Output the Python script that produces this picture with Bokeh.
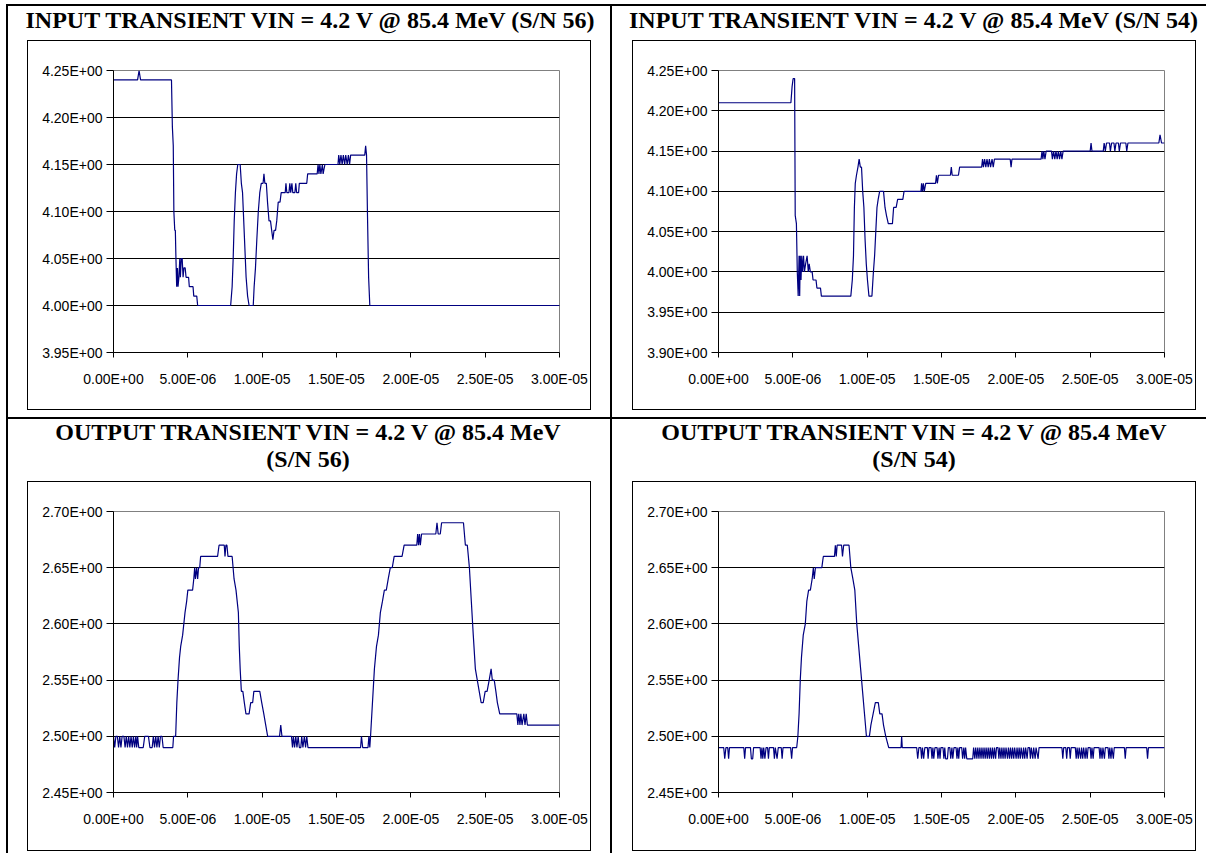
from bokeh.plotting import figure
from bokeh.models import Range1d, FixedTicker, CustomJSTickFormatter, Div, Spacer
from bokeh.layouts import column, row
from bokeh.embed import file_html
from bokeh.resources import INLINE

# ---------------- data (time in microseconds, voltage in V) ----------------
title_in56 = ["INPUT TRANSIENT VIN = 4.2 V @ 85.4 MeV (S/N 56)"]
title_in54 = ["INPUT TRANSIENT VIN = 4.2 V @ 85.4 MeV (S/N 54)"]
title_out56 = ["OUTPUT TRANSIENT VIN = 4.2 V @ 85.4 MeV", "(S/N 56)"]
title_out54 = ["OUTPUT TRANSIENT VIN = 4.2 V @ 85.4 MeV", "(S/N 54)"]

x_ticks = [0.0, 5e-6, 1e-5, 1.5e-5, 2e-5, 2.5e-5, 3e-5]
y_ticks_in56 = [3.95, 4.00, 4.05, 4.10, 4.15, 4.20, 4.25]
y_ticks_in54 = [3.90, 3.95, 4.00, 4.05, 4.10, 4.15, 4.20, 4.25]
y_ticks_out = [2.45, 2.50, 2.55, 2.60, 2.65, 2.70]

t_in56 = [0, 1.62, 1.72, 1.82, 3.90, 3.96, 4.02, 4.06, 4.12, 4.16, 4.20, 4.25, 4.30, 4.34,
          4.40, 4.46, 4.50, 4.56, 4.62, 4.68, 4.74, 4.82, 4.88, 5.05, 5.10, 5.35, 5.40, 5.60,
          5.66, 7.88, 7.98, 8.05, 8.12, 8.20, 8.28, 8.36, 8.52, 8.60, 8.68, 8.76, 8.84, 8.92,
          9.02, 9.12, 9.40, 9.46, 9.55, 9.64, 9.74, 9.84, 9.94, 10.06, 10.12, 10.18, 10.28,
          10.36, 10.46, 10.56, 10.64, 10.72, 10.80, 10.90, 10.98, 11.08, 11.20, 11.28, 11.55,
          11.60, 11.66, 11.80, 11.86, 11.92, 12.00, 12.06, 12.20, 12.26, 12.32, 12.45, 12.50,
          13.00, 13.06, 13.70, 13.76, 13.82, 13.88, 13.95, 14.05, 14.10, 14.22, 15.10, 15.15,
          15.22, 15.30, 15.38, 15.46, 15.55, 15.62, 15.72, 15.80, 15.88, 15.95, 16.90, 16.96,
          17.02, 17.08, 17.16, 17.24, 30.0]
v_in56 = [4.24, 4.24, 4.25, 4.24, 4.24, 4.19, 4.17, 4.10, 4.08, 4.08, 4.05, 4.02, 4.04, 4.02,
          4.03, 4.05, 4.03, 4.05, 4.05, 4.03, 4.04, 4.04, 4.03, 4.03, 4.02, 4.02, 4.01, 4.01,
          4.00, 4.00, 4.02, 4.05, 4.09, 4.12, 4.14, 4.15, 4.15, 4.13, 4.12, 4.09, 4.06, 4.03,
          4.01, 4.00, 4.00, 4.02, 4.04, 4.07, 4.10, 4.12, 4.13, 4.13, 4.14, 4.13, 4.13,
          4.11, 4.09, 4.09, 4.08, 4.07, 4.08, 4.08, 4.09, 4.11, 4.11, 4.12, 4.12,
          4.13, 4.12, 4.12, 4.13, 4.12, 4.13, 4.12, 4.12, 4.13, 4.12, 4.12, 4.13,
          4.13, 4.14, 4.14, 4.15, 4.14, 4.15, 4.14, 4.15, 4.14, 4.15, 4.15, 4.16,
          4.15, 4.16, 4.15, 4.16, 4.15, 4.16, 4.15, 4.16, 4.15, 4.16, 4.16, 4.17,
          4.16, 4.10, 4.03, 4.00, 4.00]

t_in54 = [0, 4.87, 4.95, 5.02, 5.12, 5.16, 5.24, 5.30, 5.36, 5.42, 5.46, 5.50, 5.55, 5.60,
          5.65, 5.72, 5.78, 5.86, 5.96, 6.04, 6.10, 6.18, 6.30, 6.36, 6.56, 6.62, 6.86, 6.92,
          8.90, 9.00, 9.08, 9.14, 9.20, 9.28, 9.38, 9.46, 9.54, 9.62, 9.70, 9.78, 9.86, 9.94,
          10.02, 10.12, 10.32, 10.42, 10.50, 10.58, 10.66, 10.74, 10.84, 11.10, 11.20, 11.30,
          11.42, 11.70, 11.78, 11.95, 12.05, 12.40, 12.48, 13.62, 13.66, 13.72, 13.78, 13.84,
          13.94, 14.60, 14.66, 14.72, 14.80, 15.60, 15.66, 15.72, 16.14, 16.22, 17.70, 17.76,
          17.82, 17.90, 17.98, 18.06, 18.14, 18.22, 18.30, 18.40, 18.48, 18.56, 19.62, 19.68,
          19.74, 21.70, 21.76, 21.82, 21.88, 21.96, 22.04, 22.40, 22.46, 22.54, 22.62, 22.70,
          22.78, 22.86, 22.94, 23.02, 23.10, 23.18, 25.00, 25.06, 25.12, 25.88, 25.94, 26.02,
          26.10, 26.30, 26.36, 26.44, 26.60, 26.66, 26.74, 26.90, 26.96, 27.04, 27.40, 27.46,
          27.54, 29.62, 29.70, 29.80, 30.0]
v_in54 = [4.21, 4.21, 4.23, 4.24, 4.24, 4.07, 4.06, 4.00, 3.97, 4.02, 3.97, 4.02, 3.99, 4.02,
          4.00, 4.02, 4.00, 4.01, 4.02, 4.00, 4.01, 4.00, 4.00, 3.99, 3.99, 3.98, 3.98, 3.97,
          3.97, 3.99, 4.02, 4.08, 4.11, 4.12, 4.13, 4.14, 4.13, 4.13, 4.10, 4.08, 4.04, 4.01,
          3.99, 3.97, 3.97, 4.00, 4.02, 4.05, 4.08, 4.09, 4.10, 4.10, 4.08, 4.07,
          4.06, 4.06, 4.08, 4.08, 4.09, 4.09, 4.10, 4.10, 4.11, 4.10, 4.11, 4.10,
          4.11, 4.11, 4.12, 4.11, 4.12, 4.12, 4.13, 4.12, 4.12, 4.13, 4.13, 4.14,
          4.13, 4.14, 4.13, 4.14, 4.13, 4.14, 4.13, 4.14, 4.13, 4.14, 4.14, 4.13,
          4.14, 4.14, 4.15, 4.14, 4.15, 4.14, 4.15, 4.15, 4.14, 4.15, 4.14, 4.15,
          4.14, 4.15, 4.14, 4.15, 4.14, 4.15, 4.15, 4.16, 4.15, 4.15, 4.16, 4.15,
          4.16, 4.16, 4.15, 4.16, 4.16, 4.15, 4.16, 4.16, 4.15, 4.16, 4.16, 4.15,
          4.16, 4.16, 4.17, 4.16, 4.16]

t_out56 = [0, 0.08, 0.16, 0.26, 0.34, 0.42, 0.50, 0.58, 0.70, 0.78, 0.86, 0.94, 1.02, 1.10,
           1.18, 1.26, 1.34, 1.42, 1.50, 1.56, 1.62, 1.70, 2.00, 2.10, 2.35, 2.45, 2.60, 2.68,
           2.76, 2.84, 2.92, 3.00, 3.08, 3.16, 3.26, 3.34, 3.99, 4.04, 4.18, 4.26, 4.34, 4.44,
           4.52, 4.65, 4.73, 4.81, 4.92, 5.00, 5.32, 5.40, 5.46, 5.51, 5.59, 5.66, 5.72, 5.80,
           5.86, 7.00, 7.10, 7.45, 7.50, 7.56, 7.63, 7.70, 7.98, 8.11, 8.24, 8.32, 8.40, 8.46,
           8.52, 8.60, 8.70, 8.80, 8.91, 9.12, 9.23, 9.36, 9.44, 9.84, 9.97, 10.11, 10.24,
           10.37, 11.17, 11.25, 11.33, 11.97, 12.04, 12.10, 12.18, 12.26, 12.34, 12.42, 12.50,
           12.60, 12.66, 12.74, 12.84, 12.92, 13.00, 13.08, 13.43, 16.62, 16.68, 16.76, 17.12,
           17.18, 17.24, 17.29, 17.42, 17.55, 17.69, 17.82, 17.95, 18.09, 18.22, 18.35, 18.48,
           18.62, 18.75, 18.88, 19.41, 19.55, 20.40, 20.46, 20.52, 20.58, 20.64, 20.72, 21.68,
           21.76, 21.84, 21.98, 22.07, 23.54, 23.67, 23.80, 23.94, 24.07, 24.20, 24.34, 24.47,
           24.60, 24.73, 24.87, 25.00, 25.13, 25.27, 25.40, 25.48, 25.61, 25.72, 25.82, 25.98,
           26.20, 27.13, 27.20, 27.26, 27.34, 27.40, 27.48, 27.60, 27.68, 27.76, 27.84, 28.19,
           30.0]
v_out56 = [2.50, 2.49, 2.50, 2.50, 2.49, 2.50, 2.49, 2.50, 2.50, 2.49, 2.50, 2.49, 2.50, 2.49,
           2.50, 2.49, 2.50, 2.49, 2.50, 2.49, 2.50, 2.49, 2.49, 2.50, 2.50, 2.49, 2.49, 2.50,
           2.49, 2.50, 2.49, 2.50, 2.49, 2.50, 2.50, 2.49, 2.49, 2.50, 2.50, 2.53, 2.55, 2.57,
           2.58, 2.59, 2.60, 2.61, 2.62, 2.63, 2.63, 2.64, 2.65, 2.64, 2.65, 2.64, 2.65, 2.65,
           2.66, 2.66, 2.67, 2.67, 2.66, 2.67, 2.67, 2.66, 2.66, 2.64, 2.63, 2.62, 2.61, 2.58,
           2.56, 2.54, 2.54, 2.53, 2.52, 2.52, 2.53, 2.53, 2.54, 2.54, 2.53, 2.52, 2.51,
           2.50, 2.50, 2.51, 2.50, 2.50, 2.49, 2.50, 2.49, 2.50, 2.49, 2.50, 2.49,
           2.49, 2.50, 2.49, 2.50, 2.49, 2.50, 2.49, 2.49, 2.49, 2.50, 2.49, 2.49,
           2.50, 2.49, 2.50, 2.53, 2.56, 2.58, 2.59, 2.61, 2.62, 2.63, 2.63, 2.64,
           2.65, 2.65, 2.66, 2.66, 2.67, 2.67, 2.68, 2.67, 2.68, 2.67, 2.68, 2.68,
           2.69, 2.68, 2.68, 2.69, 2.69, 2.67, 2.67, 2.65, 2.62, 2.59, 2.56, 2.55,
           2.54, 2.53, 2.53, 2.54, 2.54, 2.55, 2.56, 2.55, 2.55, 2.54, 2.53, 2.52,
           2.52, 2.52, 2.51, 2.52, 2.51, 2.52, 2.51, 2.52, 2.51, 2.52, 2.51, 2.51,
           2.51]

t_out54 = [0, 0.35, 0.42, 0.50, 0.62, 0.68, 0.74, 1.70, 1.76, 1.82, 2.15, 2.21, 2.30, 2.36,
           2.80, 2.86, 2.92, 2.98, 3.04, 3.12, 3.20, 3.30, 3.36, 3.42, 3.70, 3.76, 3.82, 3.94,
           4.02, 4.22, 4.28, 4.34, 4.85, 4.92, 4.98, 5.26, 5.34, 5.42, 5.50, 5.58, 5.70, 5.84,
           5.94, 6.06, 6.18, 6.30, 6.38, 6.44, 6.52, 6.95, 7.05, 7.80, 7.86, 7.92, 7.98, 8.28,
           8.34, 8.42, 8.78, 8.90, 9.04, 9.17, 9.30, 9.43, 9.56, 9.69, 9.82, 9.95, 10.15, 10.25,
           10.40, 10.55, 10.75, 10.85, 11.00, 11.10, 11.25, 11.45, 12.28, 12.32, 12.36, 13.33,
           13.40, 13.48, 13.60, 13.66, 13.72, 13.80, 13.88, 14.05, 14.10, 14.16, 14.30, 14.36,
           14.42, 14.48, 14.56, 14.70, 14.76, 14.84, 14.90, 14.96, 15.10, 15.16, 15.22, 15.28,
           15.40, 15.46, 15.56, 15.62, 15.70, 15.76, 15.84, 15.98, 16.04, 16.10, 16.16, 16.22,
           16.36, 16.42, 16.50, 16.56, 16.62, 16.70, 17.10, 17.16, 17.24, 17.30, 17.38, 17.44,
           17.52, 17.58, 17.66, 17.72, 17.80, 17.86, 17.94, 18.00, 18.08, 18.14, 18.22, 18.28,
           18.36, 18.42, 18.50, 18.56, 18.64, 18.70, 18.80, 18.86, 18.92, 19.00, 19.06, 19.14,
           19.20, 19.28, 19.34, 19.44, 19.50, 19.58, 19.64, 19.72, 19.78, 19.86, 19.92, 20.02,
           20.08, 20.16, 20.22, 20.30, 20.36, 20.46, 20.52, 20.60, 20.66, 20.76, 20.82, 20.92,
           20.98, 21.04, 21.14, 21.20, 21.30, 21.36, 21.50, 21.56, 23.10, 23.16, 23.22, 23.36,
           23.42, 23.48, 23.60, 23.66, 23.72, 24.00, 24.06, 24.12, 24.20, 24.26, 24.36, 24.42,
           24.50, 24.56, 24.66, 24.72, 24.80, 24.86, 25.00, 25.06, 25.12, 25.20, 25.26, 25.60,
           25.66, 25.72, 25.80, 25.86, 25.96, 26.02, 26.20, 26.26, 26.32, 26.40, 26.46, 26.56,
           26.62, 27.30, 27.36, 27.42, 28.80, 28.86, 28.92, 30.0]
v_out54 = [2.49, 2.49, 2.48, 2.49, 2.49, 2.48, 2.49, 2.49, 2.48, 2.49, 2.49, 2.48, 2.48, 2.49,
           2.49, 2.48, 2.49, 2.48, 2.49, 2.48, 2.49, 2.49, 2.48, 2.49, 2.49, 2.48, 2.49, 2.48,
           2.49, 2.49, 2.48, 2.49, 2.49, 2.48, 2.49, 2.49, 2.50, 2.52, 2.55, 2.57, 2.59, 2.60,
           2.62, 2.63, 2.63, 2.64, 2.65, 2.64, 2.65, 2.65, 2.66, 2.66, 2.67, 2.66, 2.67, 2.67,
           2.66, 2.67, 2.67, 2.65, 2.64, 2.63, 2.60, 2.58, 2.56, 2.54, 2.52, 2.50, 2.50, 2.51,
           2.52, 2.53, 2.53, 2.52, 2.52, 2.51, 2.50, 2.49, 2.49, 2.50, 2.49, 2.49,
           2.48, 2.49, 2.49, 2.48, 2.49, 2.48, 2.49, 2.49, 2.48, 2.49, 2.49, 2.48,
           2.49, 2.48, 2.49, 2.49, 2.48, 2.49, 2.48, 2.49, 2.49, 2.48, 2.49, 2.48,
           2.48, 2.49, 2.49, 2.48, 2.49, 2.48, 2.49, 2.49, 2.48, 2.49, 2.48, 2.49,
           2.49, 2.48, 2.49, 2.48, 2.49, 2.48, 2.48, 2.49, 2.48, 2.49, 2.48, 2.49,
           2.48, 2.49, 2.48, 2.49, 2.48, 2.49, 2.48, 2.49, 2.48, 2.49, 2.48, 2.49,
           2.48, 2.49, 2.48, 2.49, 2.48, 2.49, 2.49, 2.48, 2.49, 2.48, 2.49, 2.48,
           2.49, 2.48, 2.49, 2.48, 2.49, 2.48, 2.49, 2.48, 2.49, 2.48, 2.49, 2.48,
           2.49, 2.48, 2.49, 2.48, 2.49, 2.48, 2.49, 2.48, 2.49, 2.48, 2.49, 2.49,
           2.48, 2.49, 2.48, 2.49, 2.48, 2.49, 2.48, 2.49, 2.49, 2.48, 2.49, 2.49,
           2.48, 2.49, 2.49, 2.48, 2.49, 2.49, 2.48, 2.49, 2.48, 2.49, 2.48, 2.49,
           2.48, 2.49, 2.48, 2.49, 2.48, 2.49, 2.49, 2.48, 2.49, 2.48, 2.49, 2.49,
           2.48, 2.49, 2.48, 2.49, 2.48, 2.49, 2.49, 2.48, 2.49, 2.48, 2.49, 2.48,
           2.49, 2.49, 2.48, 2.49, 2.49, 2.48, 2.49, 2.49]

# ---------------- styling ----------------
LINE_COLOR = "#000080"
TITLE_FONT = "'Liberation Serif', 'Times New Roman', serif"
TICK_FONT = "Liberation Sans"

FMT = CustomJSTickFormatter(code="""
const s = tick.toExponential(2);
const parts = s.split('e');
const e = parts[1];
const sign = e[0];
let d = e.slice(1);
if (d.length < 2) { d = '0' + d; }
return parts[0] + 'E' + sign + d;
""")


def chart(t_us, v, y_ticks, H, bottom_border):
    p = figure(width=562, height=H, output_backend="svg", toolbar_location=None, title=None,
               x_range=Range1d(0, 3e-5), y_range=Range1d(y_ticks[0], y_ticks[-1]),
               min_border_left=85, min_border_right=31,
               min_border_top=29, min_border_bottom=bottom_border,
               background_fill_color="white", border_fill_color="white", margin=0)
    p.outline_line_color = "#808080"
    p.outline_line_width = 1

    p.xaxis.ticker = FixedTicker(ticks=x_ticks)
    p.yaxis.ticker = FixedTicker(ticks=y_ticks)
    p.xaxis.formatter = FMT
    p.yaxis.formatter = FMT
    for ax in (p.xaxis[0], p.yaxis[0]):
        ax.axis_line_color = "black"
        ax.major_tick_line_color = "black"
        ax.minor_tick_line_color = None
        ax.major_tick_in = 0
        ax.major_label_text_font = TICK_FONT
        ax.major_label_text_font_size = "14px"
        ax.major_label_text_color = "black"
    p.xaxis.major_tick_out = 5
    p.xaxis.major_label_standoff = 13
    p.yaxis.major_tick_out = 7
    p.yaxis.major_label_standoff = 4

    p.xgrid.visible = False
    p.ygrid.ticker = FixedTicker(ticks=y_ticks[1:-1])
    p.ygrid.grid_line_color = "black"
    p.ygrid.grid_line_width = 1
    p.ygrid.level = "underlay"

    x = [t * 1e-6 for t in t_us]
    p.line(x, v, line_color=LINE_COLOR, line_width=1.2, level="glyph")
    return p


def bar(w, h):
    return Div(text="", width=w, height=h, margin=0, styles={"background-color": "black"})


def gap(w, h):
    return Spacer(width=w, height=h, margin=0)


def title_div(lines, w, h, inner_w, lh):
    html = ("<div style=\"width:%dpx;font-family:%s;font-weight:bold;font-size:24px;"
            "line-height:%dpx;text-align:center;white-space:nowrap;color:#000;margin:0;padding:0;\">%s</div>"
            % (inner_w, TITLE_FONT, lh, "<br>".join(lines)))
    return Div(text=html, width=w, height=h, margin=0)


def boxed(p, h_inner, with_bottom=True):
    parts = [bar(564, 1), row(bar(1, h_inner), p, bar(1, h_inner), spacing=0)]
    if with_bottom:
        parts.append(bar(564, 1))
    return column(*parts, spacing=0)


# top-left cell (602 x 411)
cell_tl = column(
    title_div(title_in56, 602, 34, 604, 28),
    row(gap(19, 370), boxed(chart(t_in56, v_in56, y_ticks_in56, 368, 57), 368), gap(19, 370), spacing=0),
    gap(602, 7), spacing=0)
# top-right cell (594 x 411)
cell_tr = column(
    title_div(title_in54, 594, 34, 603, 28),
    row(gap(20, 370), boxed(chart(t_in54, v_in54, y_ticks_in54, 368, 57), 368), gap(10, 370), spacing=0),
    gap(594, 7), spacing=0)
# bottom-left cell (602 x 434)
cell_bl = column(
    title_div(title_out56, 602, 62, 600, 27),
    row(gap(19, 370), boxed(chart(t_out56, v_out56, y_ticks_out, 368, 58), 368), gap(19, 370), spacing=0),
    gap(602, 2), spacing=0)
# bottom-right cell (594 x 434)
cell_br = column(
    title_div(title_out54, 594, 62, 604, 27),
    row(gap(20, 370), boxed(chart(t_out54, v_out54, y_ticks_out, 368, 58), 368), gap(10, 370), spacing=0),
    gap(594, 2), spacing=0)

layout = column(
    gap(1, 4),
    row(gap(6, 2), bar(1200, 2), spacing=0),
    row(gap(6, 411), bar(2, 411), cell_tl, bar(2, 411), cell_tr, spacing=0),
    row(gap(6, 2), bar(1200, 2), spacing=0),
    row(gap(6, 434), bar(2, 434), cell_bl, bar(2, 434), cell_br, spacing=0),
    spacing=0)

open("out.html", "w").write(file_html(layout, INLINE))
